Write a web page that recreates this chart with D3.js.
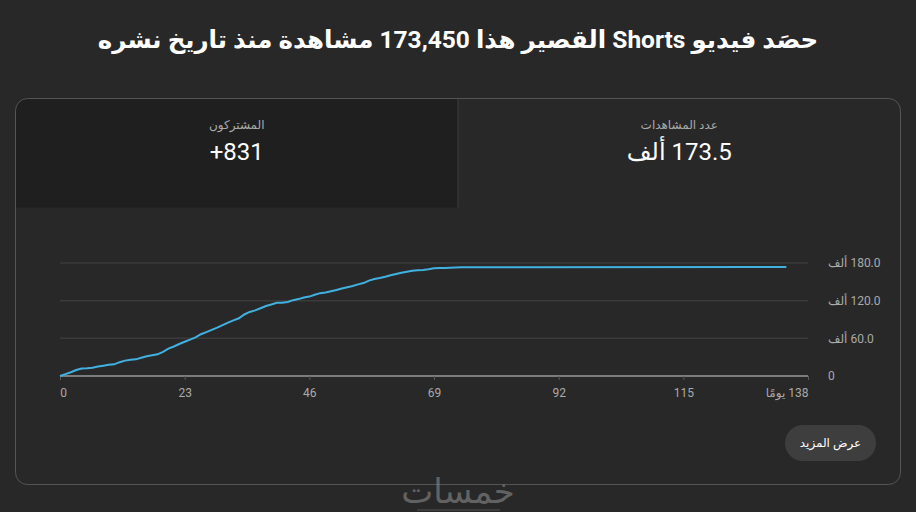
<!DOCTYPE html>
<html>
<head>
<meta charset="utf-8">
<script src="https://cdn.jsdelivr.net/npm/d3@7"></script>
<style>
  body { margin: 0; background: #282828; }
  svg text { font-family: Roboto, "DejaVu Sans", sans-serif; }
</style>
</head>
<body>
<div id="chart"></div>
<script>
// Data: cumulative views (thousands) by day since publishing
const days = [0, 1, 2, 3, 4, 5, 6, 7, 8, 9, 10, 11, 12, 13, 14, 15, 16, 17, 18, 19,
  20, 21, 22, 23, 24, 25, 26, 27, 28, 29, 30, 31, 32, 33, 34, 35, 36, 37, 38, 39,
  40, 41, 42, 43, 44, 45, 46, 47, 48, 49, 50, 51, 52, 53, 54, 55, 56, 57, 58, 59,
  60, 61, 62, 63, 64, 65, 66, 67, 68, 69, 70, 71, 72, 73, 74, 134];
const views = [0, 3.0, 6.0, 9.5, 12.0, 12.5, 13.3, 15.0, 16.5, 18.0, 18.6, 22.0, 24.5, 26.0, 26.5, 29.0, 31.5, 33.0, 34.5, 38.5,
  43.5, 47.0, 51.0, 54.5, 58.0, 61.5, 66.5, 70.0, 73.5, 77.0, 81.0, 85.0, 88.5, 92.0, 98.0, 102.0, 104.5, 108.0, 111.5, 114.0,
  116.5, 116.8, 117.8, 120.8, 122.5, 125.0, 126.5, 129.5, 132.0, 133.0, 135.0, 137.0, 139.5, 141.5, 143.5, 146.0, 148.0, 152.0, 154.5, 156.0,
  158.0, 160.5, 162.5, 164.5, 166.0, 167.5, 168.5, 169.0, 170.0, 171.5, 172.0, 172.2, 172.6, 173.0, 173.2, 173.45];
const xTicks = [0, 23, 46, 69, 92, 115, 138];
const yTicks = [0, 60, 120, 180];
const yTickLabels = ["0", "60.0 ألف", "120.0 ألف", "180.0 ألف"];

const titleText = "حصَد فيديو Shorts القصير هذا 173,450 مشاهدة منذ تاريخ نشره";
const statLabels = ["المشتركون", "عدد المشاهدات"];
const statValues = ["+831", "173.5 ألف"];

const W = 916, H = 512;
const card = {x: 15.5, y: 98.5, w: 885, h: 386, r: 12};
const headerH = 109;
const plot = {left: 60, right: 808, top: 263, bottom: 376};

const svg = d3.select("#chart").append("svg")
  .attr("width", W).attr("height", H);

svg.append("rect").attr("width", W).attr("height", H).attr("fill", "#282828");

// Title
svg.append("text")
  .attr("x", W / 2).attr("y", 48)
  .attr("direction", "rtl")
  .attr("text-anchor", "middle")
  .attr("font-size", 24.5).attr("font-weight", "bold")
  .attr("fill", "#ffffff")
  .text(titleText);

// Card: darker left header panel
const midX = card.x + card.w / 2;
svg.append("path")
  .attr("d", `M${card.x},${card.y + headerH} V${card.y + card.r} ` +
    `Q${card.x},${card.y} ${card.x + card.r},${card.y} H${midX} V${card.y + headerH} Z`)
  .attr("fill", "#1f1f1f");

svg.append("line")
  .attr("x1", midX).attr("x2", midX)
  .attr("y1", card.y).attr("y2", card.y + headerH)
  .attr("stroke", "#3c3c3c");

svg.append("rect")
  .attr("x", card.x).attr("y", card.y)
  .attr("width", card.w).attr("height", card.h)
  .attr("rx", card.r)
  .attr("fill", "none")
  .attr("stroke", "#555555");

// Header stats
const centers = [(card.x + midX) / 2, (midX + card.x + card.w) / 2];
centers.forEach(function(cx, i) {
  svg.append("text")
    .attr("x", cx).attr("y", 129)
    .attr("direction", "rtl").attr("text-anchor", "middle")
    .attr("font-size", 12).attr("fill", "#aaaaaa")
    .text(statLabels[i]);
  svg.append("text")
    .attr("x", cx).attr("y", 160)
    .attr("direction", i === 0 ? "ltr" : "rtl").attr("text-anchor", "middle")
    .attr("font-size", 24).attr("fill", "#ffffff")
    .text(statValues[i]);
});

// Scales
const x = d3.scaleLinear().domain([0, 138]).range([plot.left, plot.right]);
const y = d3.scaleLinear().domain([0, 180]).range([plot.bottom, plot.top]);

// Grid lines
svg.append("g")
  .selectAll("line")
  .data(yTicks.filter((d) => d > 0))
  .enter().append("line")
  .attr("x1", plot.left).attr("x2", plot.right)
  .attr("y1", (d) => y(d)).attr("y2", (d) => y(d))
  .attr("stroke", "#3a3a3a").attr("stroke-width", 1.5);

// Y labels (right side)
const yAxis = svg.append("g")
  .attr("transform", "translate(" + plot.right + ",0)")
  .call(d3.axisRight(y).tickValues(yTicks).tickSize(0).tickPadding(20)
    .tickFormat((d, i) => yTickLabels[i]));
yAxis.select(".domain").remove();
yAxis.selectAll("text")
  .attr("fill", "#aaaaaa")
  .attr("font-size", 12)
  .attr("direction", "rtl")
  .attr("text-anchor", "end");

// X axis
const xAxis = svg.append("g")
  .attr("transform", "translate(0," + plot.bottom + ")")
  .call(d3.axisBottom(x).tickValues(xTicks).tickSize(4).tickPadding(8)
    .tickFormat((d) => d === 138 ? "138 يومًا" : d));
xAxis.select(".domain").attr("stroke", "#9a9a9a").attr("stroke-width", 1.5)
  .attr("d", `M${plot.left},0H${plot.right}`);
xAxis.selectAll(".tick line").attr("stroke", "#5a5a5a");
xAxis.selectAll("text")
  .attr("fill", "#aaaaaa")
  .attr("font-size", 12);
xAxis.selectAll(".tick").filter((d) => d === 0).select("text")
  .attr("dx", 3);
xAxis.selectAll(".tick").filter((d) => d === 138).select("text")
  .attr("direction", "rtl")
  .attr("text-anchor", "start");

// Line
const line = d3.line()
  .x((d, i) => x(days[i]))
  .y((d) => y(d));
svg.append("path")
  .datum(views)
  .attr("d", line)
  .attr("fill", "none")
  .attr("stroke", "#41b1e1")
  .attr("stroke-width", 2);

// Button
svg.append("rect")
  .attr("x", 785).attr("y", 425).attr("width", 91).attr("height", 36)
  .attr("rx", 18).attr("fill", "#3e3e3e");
svg.append("text")
  .attr("x", 830.5).attr("y", 447)
  .attr("direction", "rtl").attr("text-anchor", "middle")
  .attr("font-size", 12).attr("fill", "#ffffff")
  .text("عرض المزيد");

// Watermark
svg.append("text")
  .attr("x", 458).attr("y", 503)
  .attr("direction", "rtl").attr("text-anchor", "middle")
  .attr("font-size", 34).attr("fill", "#8a8a8a").attr("opacity", 0.6)
  .text("خمسات");
svg.append("line")
  .attr("x1", 417).attr("x2", 500).attr("y1", 510).attr("y2", 510)
  .attr("stroke", "#555555");
</script>
</body>
</html>
